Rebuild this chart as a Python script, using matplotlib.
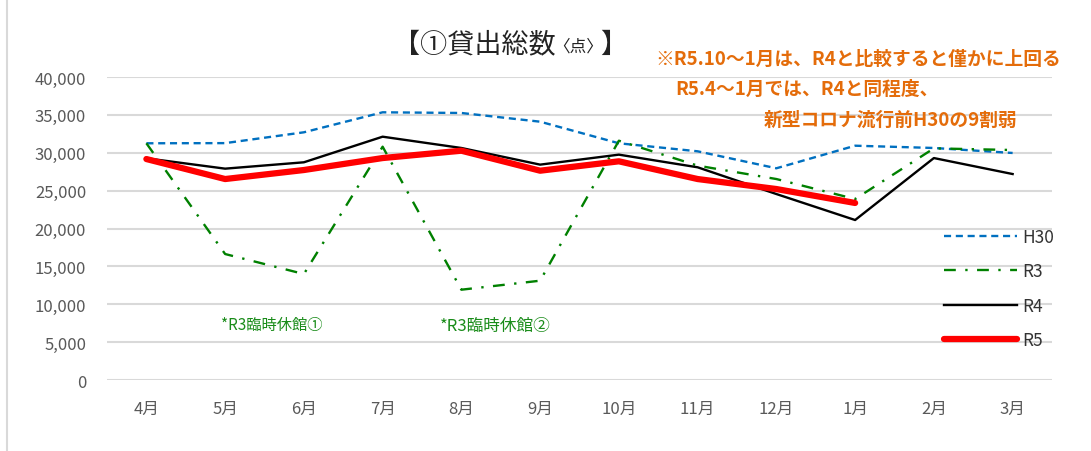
import numpy as np
import matplotlib.pyplot as plt
from matplotlib.patches import Rectangle

plt.rcParams['font.family'] = ['Noto Sans CJK JP', 'DejaVu Sans']

months = ["4月", "5月", "6月", "7月", "8月", "9月", "10月", "11月", "12月", "1月", "2月", "3月"]

h30 = [31250, 31270, 32700, 35340, 35250, 34100, 31250, 30190, 27950, 30930, 30630, 29970]
r3 = [31250, 16630, 13990, 30800, 11920, 13110, 31590, 28300, 26530, 23890, 30580, 30360]
r4 = [29270, 27900, 28740, 32120, 30630, 28430, 29750, 28080, 24550, 21120, 29300, 27190]
r5 = [29170, 26530, 27720, 29300, 30270, 27630, 28870, 26530, 25210, 23370]

yticks = [0, 5000, 10000, 15000, 20000, 25000, 30000, 35000, 40000]

orange = "#E46C0A"
green = "#1A8C1A"
gray = "#595959"

fig = plt.figure(figsize=(10.91, 4.52), dpi=100)
ax = fig.add_axes([107 / 1091, 1 - 381 / 452, (1052 - 107) / 1091, (381 - 78) / 452])

x = np.arange(len(months))
ax.plot(x, h30, color="#0070C0", lw=1.7, ls=(0, (3, 2)), label="H30", zorder=3)
ax.plot(x, r3, color="#008000", lw=1.7, ls=(0, (5, 4, 1, 4)), label="R3", zorder=3)
ax.plot(x, r4, color="black", lw=1.7, label="R4", zorder=4)
ax.plot(x[:len(r5)], r5, color="#FF0000", lw=4.5, solid_capstyle="round", label="R5", zorder=5)

ax.set_xlim(-0.5, len(months) - 0.5)
ax.set_ylim(0, 40000)
ax.set_xticks(x)
ax.set_xticklabels(months)
ax.set_yticks(yticks)
ax.set_yticklabels([f"{v:,}" for v in yticks])
ax.tick_params(axis="both", length=0, labelsize=12, colors=gray)
ax.tick_params(axis="y", pad=15)
ax.tick_params(axis="x", pad=14)
ax.grid(axis="y", color="#D9D9D9", lw=1.5, zorder=0)
for s in ax.spines.values():
    s.set_visible(False)

leg = ax.legend(loc="upper left", bbox_to_anchor=(928 / 1091, 1 - 213 / 452),
                bbox_transform=fig.transFigure, frameon=False, fontsize=12.5,
                handlelength=4.2, labelspacing=0.95, handletextpad=0.35)
for t in leg.get_texts():
    t.set_color("#333333")

# chart border
fig.patches.append(Rectangle((7 / 1091, -0.01), 1.1, 1.1, transform=fig.transFigure,
                             fill=False, ec="#D9D9D9", lw=1.5))

# title
fig.text(393 / 1091, 1 - 45 / 452, "【①貸出総数", fontsize=19.5, va="center", ha="left", color="#222222")
fig.text(553 / 1091, 1 - 47 / 452, "〈点〉", fontsize=12, va="center", ha="left", color="#222222")
fig.text(600 / 1091, 1 - 45 / 452, "】", fontsize=19.5, va="center", ha="left", color="#222222")

# orange notes
fig.text(655 / 1091, 1 - 59 / 452, "※R5.10～1月は、R4と比較すると僅かに上回る",
         fontsize=13.5, fontweight="bold", color=orange, va="center", ha="left")
fig.text(675 / 1091, 1 - 89 / 452, "R5.4～1月では、R4と同程度、",
         fontsize=13.5, fontweight="bold", color=orange, va="center", ha="left")
fig.text(764 / 1091, 1 - 120 / 452, "新型コロナ流行前H30の9割弱",
         fontsize=13.5, fontweight="bold", color=orange, va="center", ha="left")

# green notes
fig.text(221 / 1091, 1 - 325 / 452, "*R3臨時休館①", fontsize=11, color=green, va="center", ha="left")
fig.text(440 / 1091, 1 - 326 / 452, "*R3臨時休館②", fontsize=12, color=green, va="center", ha="left")

fig.savefig("out.png", dpi=100)
